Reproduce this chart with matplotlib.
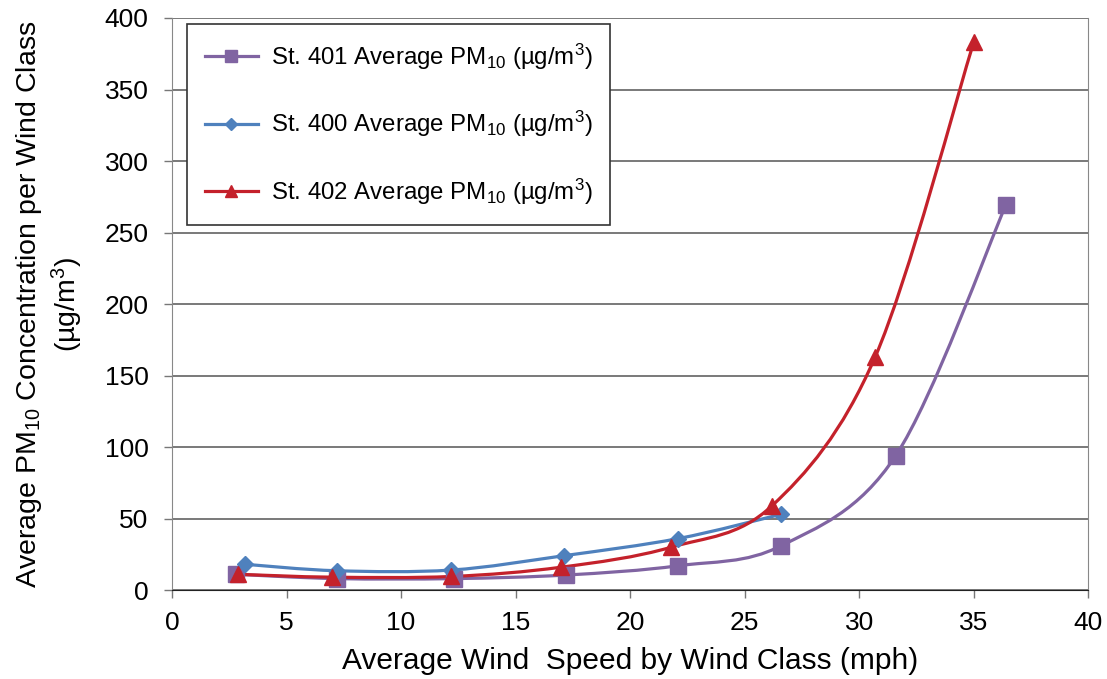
import numpy as np
import matplotlib
matplotlib.use('Agg')
import matplotlib.pyplot as plt
from matplotlib.path import Path
from matplotlib.patches import PathPatch
from matplotlib.lines import Line2D

plt.rcParams['font.family'] = ['Liberation Sans', 'DejaVu Sans']
plt.rcParams['mathtext.fontset'] = 'custom'
plt.rcParams['mathtext.rm'] = 'Liberation Sans'
plt.rcParams['mathtext.it'] = 'Liberation Sans:italic'

# Data
x401 = [2.8, 7.2, 12.3, 17.2, 22.1, 26.6, 31.6, 36.4]
y401 = [11, 8, 8, 10.5, 17, 31, 94, 269]
x400 = [3.2, 7.2, 12.2, 17.1, 22.1, 26.6]
y400 = [18, 13.5, 14, 24, 36, 53]
x402 = [2.9, 7.0, 12.2, 17.0, 21.8, 26.2, 30.7, 35.0]
y402 = [11, 9, 9.5, 16, 30, 59, 163, 383]

labels = ['St. 401 Average PM$_{10}$ (\u00b5g/m$^{3}$)',
          'St. 400 Average PM$_{10}$ (\u00b5g/m$^{3}$)',
          'St. 402 Average PM$_{10}$ (\u00b5g/m$^{3}$)']

c401 = '#8064A2'
c400 = '#4F81BD'
c402 = '#C4212B'


def smooth_path(x, y):
    # Excel-like smoothed line: cubic bezier, control points from neighbours
    x = np.asarray(x, float)
    y = np.asarray(y, float)
    n = len(x)
    verts = [(x[0], y[0])]
    codes = [Path.MOVETO]
    for i in range(n-1):
        p0 = np.array([x[max(i-1, 0)], y[max(i-1, 0)]])
        p1 = np.array([x[i], y[i]])
        p2 = np.array([x[i+1], y[i+1]])
        p3 = np.array([x[min(i+2, n-1)], y[min(i+2, n-1)]])
        c1 = p1 + (p2 - p0)/6.
        c2 = p2 - (p3 - p1)/6.
        verts += [tuple(c1), tuple(c2), tuple(p2)]
        codes += [Path.CURVE4]*3
    return Path(verts, codes)


fig = plt.figure(figsize=(11.07, 6.79), dpi=100)
ax = fig.add_axes([0.1554, 0.131, 0.8276, 0.8425])

series = [(x401, y401, c401, 's', 11),
          (x400, y400, c400, 'D', 8.5),
          (x402, y402, c402, '^', 12)]

handles = []
for (xs, ys, col, mk, ms), lab in zip(series, labels):
    ax.add_patch(PathPatch(smooth_path(xs, ys), fill=False, edgecolor=col, lw=2.3, zorder=3))
    ax.plot(xs, ys, ls='none', marker=mk, ms=ms, color=col, zorder=4)
    handles.append(Line2D([], [], color=col, lw=2.3, marker=mk, ms=ms*0.75, label=lab))

ax.set_xlim(0, 40)
ax.set_ylim(0, 400)
ax.set_xticks(np.arange(0, 41, 5))
ax.set_yticks(np.arange(0, 401, 50))
ax.yaxis.grid(True, color='#555555', lw=1.1)
ax.set_axisbelow(True)
ax.tick_params(axis='both', labelsize=19, length=6, width=1, color='#777777', direction='out')
ax.tick_params(axis='x', pad=9)
ax.tick_params(axis='y', pad=11)
for s in ['top', 'right', 'left']:
    ax.spines[s].set_color('#888888')
ax.spines['bottom'].set_color('#222222')
ax.spines['top'].set_visible(False)

ax.set_xlabel('Average Wind  Speed by Wind Class (mph)', fontsize=21.5, labelpad=9)
ax.set_ylabel('Average PM$_{10}$ Concentration per Wind Class\n(\u00b5g/m$^{3}$)', fontsize=20.5,
              labelpad=14, linespacing=1.2)

leg = ax.legend(handles=handles, loc='upper left', bbox_to_anchor=(0.016, 0.99), fontsize=17.3,
                labelspacing=1.55, borderpad=0.75, handlelength=2.2, handletextpad=0.55,
                fancybox=False, framealpha=1, edgecolor='#333333', borderaxespad=0.0)
leg.get_frame().set_linewidth(1.2)

fig.savefig('out.png', dpi=100)
